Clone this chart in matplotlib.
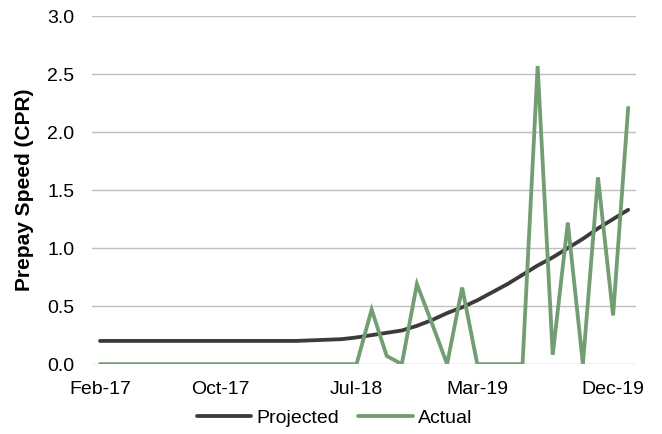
import matplotlib
matplotlib.use("Agg")
import matplotlib.pyplot as plt
import pandas as pd

plt.rcParams["font.family"] = ["Liberation Sans", "DejaVu Sans"]

# monthly prepay speeds, Feb-17 .. Jan-20
months = pd.date_range("2017-02-01", periods=36, freq="MS").strftime("%b-%y").tolist()

projected = [0.20, 0.20, 0.20, 0.20, 0.20, 0.20, 0.20, 0.20, 0.20, 0.20,
             0.20, 0.20, 0.20, 0.20, 0.205, 0.21, 0.215, 0.23, 0.25, 0.27,
             0.29, 0.33, 0.38, 0.44, 0.49, 0.55, 0.62, 0.69, 0.77, 0.85,
             0.92, 1.00, 1.08, 1.17, 1.25, 1.33]

actual = [0, 0, 0, 0, 0, 0, 0, 0, 0, 0,
          0, 0, 0, 0, 0, 0, 0, 0, 0.47, 0.07,
          0.0, 0.69, 0.35, 0.0, 0.66, 0.0, 0.0, 0.0, 0.0, 2.57,
          0.08, 1.22, 0.0, 1.61, 0.42, 2.21]

tick_idx = [0, 8, 17, 25, 34]

fig = plt.figure(figsize=(6.62, 4.34), dpi=100)
ax = fig.add_axes([0.1397, 0.161, 0.8206, 0.802])

x = list(range(len(months)))
ax.plot(x, projected, color="#3b3b3b", lw=2.75, label="Projected", solid_capstyle="round")
ax.plot(x, actual, color="#739e73", lw=2.75, label="Actual", solid_capstyle="round",
        solid_joinstyle="miter")

ax.set_xlim(-0.5, 35.5)
ax.set_ylim(0, 3.0)
ax.set_yticks([0, 0.5, 1.0, 1.5, 2.0, 2.5, 3.0])
ax.set_yticklabels([f"{v:.1f}" for v in ax.get_yticks()])
ax.set_xticks(tick_idx)
ax.set_xticklabels([months[i] for i in tick_idx])

ax.grid(axis="y", color="#c0c0c0", lw=1.0)
ax.set_axisbelow(True)
for s in ax.spines.values():
    s.set_visible(False)
ax.tick_params(axis="both", length=0, labelsize=14, colors="#000000")
ax.tick_params(axis="y", pad=13)
ax.tick_params(axis="x", pad=12)

ax.set_ylabel("Prepay Speed (CPR)", fontsize=15, fontweight="bold")
ax.yaxis.set_label_coords(-0.108, 0.5)

# legend sits centred on the figure, below the date labels
fig.legend(loc="center", bbox_to_anchor=(0.505, 0.037), ncol=2, frameon=False,
           fontsize=14, handlelength=2.8, handletextpad=0.25, columnspacing=1.0)

fig.savefig("out.png", dpi=100)
